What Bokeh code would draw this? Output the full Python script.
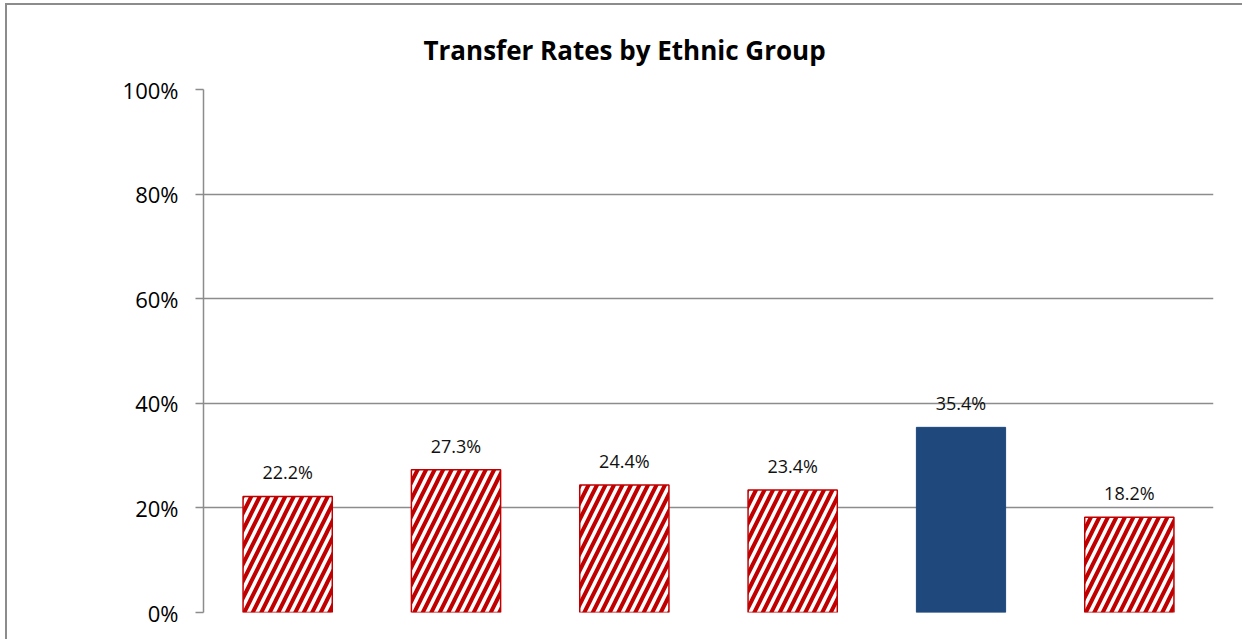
from bokeh.plotting import figure
from bokeh.models import ColumnDataSource, FactorRange, NumeralTickFormatter, FixedTicker, Range1d
from bokeh.core.properties import value
from bokeh.embed import file_html
from bokeh.resources import INLINE

categories = ["African-American", "American Indian", "Filipino", "Hispanic", "Asian", "White"]
rates = [0.222, 0.273, 0.244, 0.234, 0.354, 0.182]
highlight = [False, False, False, False, True, False]
y_ticks = [0.0, 0.2, 0.4, 0.6, 0.8, 1.0]
title_text = "Transfer Rates by  Ethnic Group"

labels = [f"{v * 100:.1f}%" for v in rates]

GRAY = "#8c8c8c"
RED = "#C00000"
NAVY = "#1F497D"
FONT = "Open Sans"

OX, OY = 7, 5  # outer border offset

p = figure(
    width=1244 - OX, height=641 - OY,
    x_range=FactorRange(*categories, range_padding=0),
    y_range=Range1d(0, 1),
    output_backend="svg", toolbar_location=None,
    min_border_left=203 - OX, min_border_right=31,
    min_border_top=89 - OY, min_border_bottom=29,
)
p.margin = (OY - 2, 0, 0, OX - 2)
p.styles = {"border-left": f"2px solid {GRAY}", "border-top": f"2px solid {GRAY}"}

p.title.text = title_text
p.title.text_font = FONT
p.title.text_font_size = "26px"
p.title.text_font_style = "bold"
p.title.align = "left"
p.title.offset = 220
p.title.standoff = 44
p.title.text_color = "black"

p.outline_line_color = None
p.background_fill_color = "white"
p.border_fill_color = "white"

src_norm = ColumnDataSource(dict(
    x=[c for c, h in zip(categories, highlight) if not h],
    top=[v for v, h in zip(rates, highlight) if not h],
))
src_hi = ColumnDataSource(dict(
    x=[c for c, h in zip(categories, highlight) if h],
    top=[v for v, h in zip(rates, highlight) if h],
))
lab_src = ColumnDataSource(dict(x=categories, y=rates, text=labels))

p.vbar(x="x", top="top", width=0.53, source=src_norm,
       fill_color="white", line_color=RED, line_width=1.5,
       hatch_pattern="/", hatch_color=RED, hatch_weight=4, hatch_scale=17)
p.vbar(x="x", top="top", width=0.53, source=src_hi,
       fill_color=NAVY, line_color=NAVY, line_width=1)

p.text(x="x", y="y", text="text", source=lab_src, text_align="center",
       text_baseline="alphabetic", y_offset=-24, text_font=value(FONT),
       text_font_size="18px", text_color="#111111")

p.yaxis.ticker = FixedTicker(ticks=y_ticks)
p.yaxis.formatter = NumeralTickFormatter(format="0%")
p.yaxis.major_label_text_font = FONT
p.yaxis.major_label_text_font_size = "22px"
p.yaxis.major_label_text_color = "black"
p.yaxis.major_label_standoff = 17
p.yaxis.major_tick_out = 8
p.yaxis.major_tick_in = 0
p.yaxis.minor_tick_line_color = None
p.yaxis.axis_line_color = GRAY
p.yaxis.axis_line_width = 1.5
p.yaxis.major_tick_line_color = GRAY
p.yaxis.major_tick_line_width = 1.5

p.xaxis.visible = False

p.xgrid.grid_line_color = None
p.ygrid.grid_line_color = GRAY
p.ygrid.grid_line_width = 1.5
p.ygrid.ticker = FixedTicker(ticks=y_ticks)

open("out.html", "w").write(file_html(p, INLINE))
